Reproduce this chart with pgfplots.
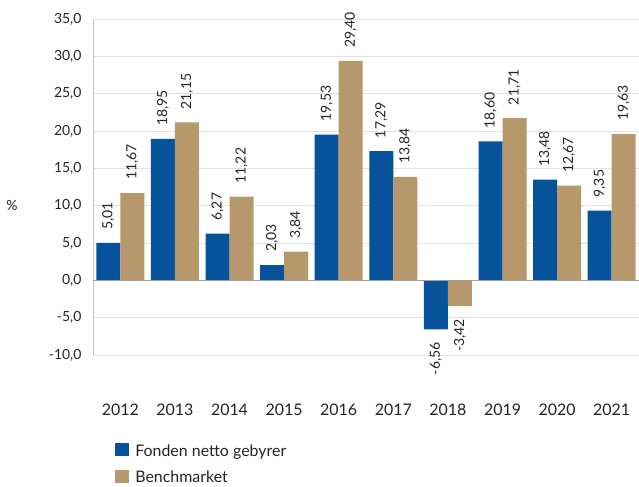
\documentclass[border=0pt]{standalone}
\usepackage{fontspec}
\setmainfont{Lato}
\usepackage{pgfplots}
\usepackage{pgfplotstable}
\pgfplotsset{compat=1.18}
\definecolor{fblue}{RGB}{6,83,156}
\definecolor{ftan}{RGB}{183,152,108}
\definecolor{gridc}{RGB}{226,226,226}
\definecolor{txt}{RGB}{35,35,35}
\pgfplotstableread{
x y lab
0 5.01 5,01
1 18.95 18,95
2 6.27 6,27
3 2.03 2,03
4 19.53 19,53
5 17.29 17,29
6 -6.56 -6,56
7 18.60 18,60
8 13.48 13,48
9 9.35 9,35
}\fonden
\pgfplotstableread{
x y lab
0 11.67 11,67
1 21.15 21,15
2 11.22 11,22
3 3.84 3,84
4 29.40 29,40
5 13.84 13,84
6 -3.42 -3,42
7 21.71 21,71
8 12.67 12,67
9 19.63 19,63
}\bench
\begin{document}
\begin{tikzpicture}
\begin{axis}[
  name=ax, at={(0,0)}, anchor=south west,
  scale only axis, width=546bp, height=336bp,
  xmin=-0.5, xmax=9.5, ymin=-10, ymax=35,
  ytick={-10,-5,...,35},
  xtick={0,...,9},
  xticklabels={2012,2013,2014,2015,2016,2017,2018,2019,2020,2021},
  axis y line*=left, axis x line*=bottom,
  x axis line style={draw=none},
  y axis line style={draw=gray!45, line width=0.8bp},
  major tick length=0,
  ymajorgrids, grid style={gridc, line width=0.9bp},
  /pgf/number format/assume math mode=true,
  yticklabel style={font=\fontsize{14}{16}\selectfont, text=txt, xshift=-8bp,
    /pgf/number format/.cd, fixed, fixed zerofill, precision=1, use comma},
  xticklabel style={font=\fontsize{16}{18}\selectfont, text=txt, yshift=-45bp},
  ylabel={\%},
  every axis y label/.style={at={(rel axis cs:0,0.446)}, anchor=center, xshift=-81bp, font=\fontsize{14}{16}\selectfont, text=txt},
  ybar, bar width=24bp,
  point meta=explicit symbolic,
  nodes near coords,
  visualization depends on={y \as \rawy},
  every node near coord/.append style={font=\fontsize{14}{16}\selectfont, text=txt, rotate=90, inner xsep=13bp},
  every node near coord/.append code={%
    \pgfmathparse{\rawy<0}%
    \ifdim\pgfmathresult pt>0.5pt \pgfkeysalso{/tikz/anchor=east}\else\pgfkeysalso{/tikz/anchor=west}\fi},
  legend style={at={(0.035,-0.255)}, anchor=north west, draw=none, fill=none,
    font=\fontsize{16}{18}\selectfont, text=txt, row sep=9bp,
    nodes={inner xsep=6bp}},
  legend cell align=left,
  legend image code/.code={\fill[#1] (0bp,-5bp) rectangle (14bp,8bp);},
]
\addplot[fill=fblue, draw=none, bar shift=-12bp] table[x=x, y=y, meta=lab] {\fonden};
\addplot[fill=ftan, draw=none, bar shift=12bp] table[x=x, y=y, meta=lab] {\bench};
\legend{Fonden netto gebyrer, Benchmarket}
\draw[gray!75, line width=1.6bp] (rel axis cs:0,0.2222) -- (rel axis cs:1,0.2222);
\end{axis}
\pgfresetboundingbox
\path (-93bp,-132bp) rectangle (546bp,355bp);
\end{tikzpicture}
\end{document}
